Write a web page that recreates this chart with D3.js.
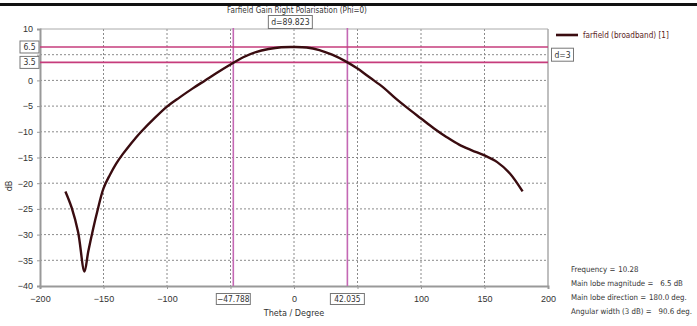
<!DOCTYPE html>
<html><head><meta charset="utf-8">
<script src="https://cdn.jsdelivr.net/npm/d3@7"></script>
<style>
body{margin:0;background:#fff;}
svg{display:block;font-family:"Liberation Sans Narrow","DejaVu Sans Condensed","Liberation Sans",sans-serif;}
</style></head>
<body><svg id="c" width="697" height="326"></svg>
<script>
const theta = [-180,-175,-170,-165,-162,-158,-155,-150,-145,-140,-135,-130,-125,-120,-110,-100,-90,-80,-70,-60,-50,-40,-30,-20,-10,0,10,20,30,40,50,60,70,80,90,100,110,120,130,140,150,160,170,180];
const gain = [-21.6,-24.8,-29.5,-37.2,-33.3,-28.7,-25.6,-21.0,-18.4,-16.2,-14.4,-12.8,-11.3,-9.9,-7.4,-5.1,-3.3,-1.6,0,1.6,3.1,4.5,5.5,6.1,6.45,6.5,6.4,5.9,5.0,3.8,2.3,0.5,-1.3,-3.5,-5.5,-7.4,-9.3,-11.0,-12.5,-13.6,-14.6,-15.9,-18.1,-21.6];
const xTicks = [-200,-150,-100,-50,0,50,100,150,200];
const yTicks = [-40,-35,-30,-25,-20,-15,-10,-5,0,5,10];
const vMarkers = [-47.788, 42.035];
const hMarkers = [6.5, 3.5];
const title = "Farfield Gain Right Polarisation (Phi=0)";
const legendLabel = "farfield (broadband) [1]";
const infoLabels = ["Frequency =","Main lobe magnitude =","Main lobe direction =","Angular width (3 dB) ="];
const infoValues = ["10.28","6.5 dB","180.0 deg.","90.6 deg."];

const svg = d3.select("#c");
const L=40,R=548,T=29,B=286;
const x = d3.scaleLinear().domain([-200,200]).range([L,R]);
const y = d3.scaleLinear().domain([-40,10]).range([B,T]);
const FS = 9;

function fit(sel, w, maxFs){
  const cur = sel.node().getComputedTextLength();
  const fs = Math.min(maxFs, FS * w / cur);
  sel.attr("font-size", fs);
  return fs;
}

// top black bar
svg.append("rect").attr("x",0).attr("y",3).attr("width",697).attr("height",3).attr("fill","#111");

// grid
const g = svg.append("g");
g.selectAll(".gx").data(xTicks.slice(1,-1)).enter().append("line")
 .attr("x1",d=>x(d)).attr("x2",d=>x(d)).attr("y1",T).attr("y2",B)
 .attr("stroke","#8a8a8a").attr("stroke-dasharray","2,2").attr("stroke-width",1);
g.selectAll(".gy").data(yTicks.slice(1,-1)).enter().append("line")
 .attr("x1",L).attr("x2",R).attr("y1",d=>y(d)).attr("y2",d=>y(d))
 .attr("stroke","#8a8a8a").attr("stroke-dasharray","2,2").attr("stroke-width",1);

// frame
svg.append("line").attr("x1",L).attr("x2",R).attr("y1",T).attr("y2",T).attr("stroke","#aaa");
svg.append("line").attr("x1",R).attr("x2",R).attr("y1",T).attr("y2",B).attr("stroke","#aaa").attr("stroke-width",1.5);

// axes (labels hidden where marker boxes cover them, as in the reference)
const hiddenX = [-50,50], hiddenY=[5];
const ax = svg.append("g").attr("transform",`translate(0,${B})`)
  .call(d3.axisBottom(x).tickValues(xTicks).tickSize(3).tickPadding(7).tickFormat(d=>hiddenX.includes(d)?"":d3.format("d")(d)));
const ay = svg.append("g").attr("transform",`translate(${L},0)`)
  .call(d3.axisLeft(y).tickValues(yTicks).tickSize(3).tickPadding(4).tickFormat(d=>hiddenY.includes(d)?"":d3.format("d")(d)));
[ax,ay].forEach(a=>{
  a.select(".domain").attr("stroke","#999").attr("stroke-width",2);
  a.selectAll(".tick line").attr("stroke","#999");
  a.selectAll("text").attr("fill","#333").attr("font-size",FS).attr("font-family",null);
});

// markers
svg.selectAll(".vm").data(vMarkers).enter().append("line")
 .attr("x1",d=>x(d)).attr("x2",d=>x(d)).attr("y1",T-1).attr("y2",B)
 .attr("stroke","#c468b4").attr("stroke-width",1.6);
svg.selectAll(".hm").data(hMarkers).enter().append("line")
 .attr("x1",L).attr("x2",R).attr("y1",d=>y(d)).attr("y2",d=>y(d))
 .attr("stroke","#c63c7c").attr("stroke-width",1.6);

// curve
const pts = theta.map((t,i)=>[t,gain[i]]);
svg.append("path").datum(pts)
 .attr("d",d3.line().x(d=>x(d[0])).y(d=>y(d[1])).curve(d3.curveCatmullRom.alpha(0.5)))
 .attr("fill","none").attr("stroke","#3a0c10").attr("stroke-width",2.4).attr("stroke-linejoin","round");

// label boxes
function box(cx,cy,w,h,txt,fs){
  svg.append("rect").attr("x",cx-w/2).attr("y",cy-h/2).attr("width",w).attr("height",h)
    .attr("fill","#fff").attr("stroke","#777").attr("stroke-width",1);
  svg.append("text").attr("x",cx).attr("y",cy).attr("dy","0.35em").attr("text-anchor","middle")
    .attr("font-size",fs).attr("fill","#333").text(txt);
}
// title
fit(svg.append("text").attr("x",297).attr("y",13).attr("text-anchor","middle").attr("font-size",FS).attr("fill","#333").text(title), 140, 9.5);

hMarkers.forEach(v=>box(29.5,y(v),19,12,d3.format(".1f")(v),8.5));
vMarkers.forEach(v=>box(x(v),299,34,11,d3.format(".3f")(v),8.3));
box((x(vMarkers[0])+x(vMarkers[1]))/2,22,44,13,"d="+d3.format(".3f")(vMarkers[1]-vMarkers[0]),8.6);
box(562.5,(y(hMarkers[0])+y(hMarkers[1]))/2,22,13,"d="+d3.format("d")(hMarkers[0]-hMarkers[1]),8.5);

// axis titles
svg.append("text").attr("x",294).attr("y",316).attr("text-anchor","middle").attr("font-size",FS).attr("fill","#333").text("Theta / Degree");
svg.append("text").attr("transform","translate(12,186) rotate(-90)").attr("text-anchor","middle").attr("font-size",FS).attr("fill","#333").text("dB");

// legend
svg.append("line").attr("x1",556).attr("x2",578).attr("y1",35).attr("y2",35).attr("stroke","#3a0c10").attr("stroke-width",2.6);
fit(svg.append("text").attr("x",583).attr("y",35).attr("dy","0.35em").attr("font-size",FS).attr("fill","#5a1e22").text(legendLabel), 86, 9.5);

// info block: uniform font, labels left, values in a column
const infoY=[269,283,297,311];
const infoFS = 7.8;
const gap=[3,7,3,7];
infoLabels.forEach((l,i)=>{
  const lt = svg.append("text").attr("x",571).attr("y",infoY[i]).attr("dy","0.35em").attr("font-size",infoFS).attr("fill","#333").text(l);
  const endX = 571 + lt.node().getComputedTextLength();
  const vt = svg.append("text").attr("y",infoY[i]).attr("dy","0.35em").attr("font-size",infoFS).attr("fill","#333").text(infoValues[i]);
  const vw = vt.node().getComputedTextLength();
  vt.attr("x", Math.max(endX + 2, Math.min(endX + gap[i], 695 - vw)));
});
</script></body></html>
